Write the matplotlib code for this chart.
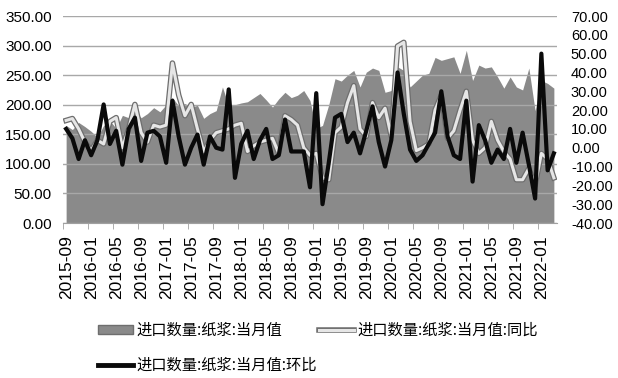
import numpy as np
import matplotlib
matplotlib.use("Agg")
import matplotlib.pyplot as plt
import matplotlib.patheffects as pe
from matplotlib.patches import Patch
from matplotlib.lines import Line2D

plt.rcParams['font.family'] = ['Liberation Sans', 'Noto Sans CJK SC', 'DejaVu Sans']

# monthly, 2015-09 .. 2022-03
months = []
y, m = 2015, 9
for _ in range(79):
    months.append("%d-%02d" % (y, m))
    m += 1
    if m > 12:
        y, m = y + 1, 1

# 进口数量:纸浆:当月值 (left axis)
volume = [165, 158, 170, 163, 155, 145, 165, 173, 160, 182,
          178, 190, 178, 185, 195, 188, 200, 212, 198, 202,
          196, 199, 177, 185, 190, 230, 198, 200, 203, 205,
          212, 219, 208, 196, 210, 221, 212, 216, 224, 207,
          160, 165, 200, 244, 240, 250, 258, 230, 255, 262,
          258, 221, 224, 264, 258, 230, 240, 250, 253, 280,
          275, 278, 281, 253, 292, 241, 267, 262, 264, 247,
          228, 247, 230, 225, 262, 190, 241, 236, 228]

# 同比 (right axis)
yoy = [14.5, 15.5, 10, 3, -1.5, 4, 2, 14, 16, 0,
       10, 23, 8, 3, 12, 11, 12, 45, 28, 17,
       23, 10, -2, 4, 8, 9, 10, 12, 13, -2,
       1, 3, 4, 5, -3, 17, 15, 12, 0, -4,
       -3, -16, -17, 8, 11, 24, 33, 10, 6, 24,
       16, 21, 6, 54, 56, 14, -1.5, 0, 2, 20,
       28, 5, 9, 20, 30, 4, -3, 0, 14, 4,
       -2, -6, -17, -17, -11, -20, -3, -6, -16]

# 环比 (right axis)
mom = [10, 5, -6, 4, -4, 4, 23, 2, 9, -9,
       10, 16, -7, 8, 9, 6, -8, 25, 6, -9,
       0, 7, -9, 6, 0, -1, 31, -16, 2, 9,
       -6, 4, 10, -6, -4, 15, -2, -2, -2, -21,
       29, -30, -8, 16, 18, 3, 8, -3, 9, 22,
       3, -10, 4, 40, 18, -1, -7, -4, 2, 8,
       30, 6, -4, -6, 25, -18, 12, 4, -8, -1,
       -6, 10, -8, 8, -9, -27, 50, -12, -3]

x = np.arange(len(months))

fig = plt.figure(figsize=(6.18, 3.78), dpi=100)
ax = fig.add_axes([63/618, 1-223/378, (557-63)/618, (223-16)/378])
ax2 = ax.twinx()

ax.fill_between(x, 0, volume, color='#8a8a8a', linewidth=0, zorder=1)
ax.set_ylim(0, 350)
ax.set_yticks(np.arange(0, 351, 50))
ax.set_yticklabels(["%.2f" % v for v in np.arange(0, 351, 50)])
ax.set_axisbelow(False)
ax.yaxis.grid(True, color='#a8a8a8', linewidth=1)
ax.set_xlim(-0.5, 78.5)
ax.set_xticks(x[::4])
ax.set_xticklabels(months[::4], rotation=90)
ax.set_xticks(x[::4] - 0.5, minor=True)

ax2.plot(x, yoy, color='#e6e6e6', linewidth=2.2,
         path_effects=[pe.Stroke(linewidth=4, foreground='#6e6e6e'), pe.Normal()])
ax2.plot(x, mom, color='#0a0a0a', linewidth=3)
ax2.set_ylim(-40, 70)
ax2.set_yticks(np.arange(-40, 71, 10))
ax2.set_yticklabels(["%.2f" % v for v in np.arange(-40, 71, 10)])

for a in (ax, ax2):
    for s in a.spines.values():
        s.set_visible(False)
ax.spines['bottom'].set_visible(True)
ax.spines['bottom'].set_color('#a0a0a0')
ax.tick_params(axis='y', length=0, labelsize=11, pad=8)
ax2.tick_params(axis='y', length=0, labelsize=10.5, pad=10)
ax.tick_params(axis='x', which='major', length=0, labelsize=12.5, pad=9)
ax.tick_params(axis='x', which='minor', length=4, color='#a0a0a0')

h_area = Patch(facecolor='#8a8a8a', edgecolor='#6e6e6e')
h_yoy = Line2D([], [], color='#e6e6e6', linewidth=2.2,
               path_effects=[pe.Stroke(linewidth=4, foreground='#6e6e6e'), pe.Normal()])
h_mom = Line2D([], [], color='#0a0a0a', linewidth=3.5)
fig.legend([h_area, h_mom, h_yoy],
           ["进口数量:纸浆:当月值", "进口数量:纸浆:当月值:环比", "进口数量:纸浆:当月值:同比"],
           ncol=2, loc='upper left', bbox_to_anchor=(84/618, 1-308/378),
           frameon=False, handlelength=2.3, handleheight=0.5, handletextpad=0.2,
           columnspacing=0.15, labelspacing=1.2,
           prop={'family': ['Noto Sans CJK SC'], 'size': 11})

fig.savefig("out.png", dpi=100)
